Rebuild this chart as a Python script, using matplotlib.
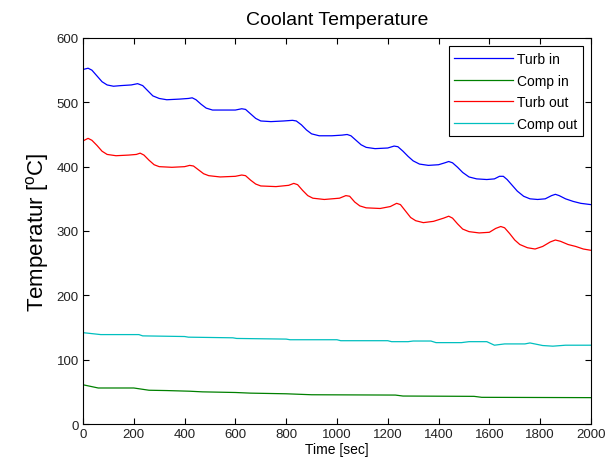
"""Coolant temperature vs time, MATLAB-style line chart saved as out.png."""

import matplotlib.pyplot as plt

# time [sec] / temperature [C]
TURB_IN_T = [0, 20, 35, 55, 75, 95, 120, 150, 190, 215, 235, 255, 275, 300, 330,
             380, 415, 430, 445, 465, 485, 510, 560, 600, 625, 640, 660, 680, 700,
             740, 790, 825, 840, 860, 880, 900, 930, 980, 1020, 1040, 1055, 1075,
             1095, 1115, 1150, 1200, 1225, 1240, 1260, 1280, 1300, 1325, 1360, 1400,
             1425, 1440, 1455, 1475, 1495, 1520, 1550, 1590, 1620, 1640, 1655, 1670,
             1690, 1710, 1735, 1760, 1790, 1820, 1845, 1860, 1875, 1900, 1930, 1960,
             2000]
TURB_IN = [551, 553, 550, 541, 532, 527, 525, 526, 527, 529, 526, 518, 510, 506, 504,
           505, 506, 507, 504, 497, 491, 488, 488, 488, 490, 489, 482, 475, 471,
           470, 471, 472, 471, 465, 457, 451, 448, 448, 449, 450, 448, 441,
           434, 430, 428, 429, 432, 431, 424, 416, 409, 404, 402, 403,
           406, 408, 406, 399, 391, 384, 381, 380, 381, 385, 385, 380,
           371, 362, 354, 350, 349, 350, 355, 357, 355, 350, 346, 343,
           341]

TURB_OUT_T = [0, 20, 35, 55, 75, 95, 130, 180, 210, 225, 240, 260, 280, 300, 350,
              400, 420, 435, 455, 475, 495, 540, 600, 625, 640, 660, 680, 700, 760,
              810, 830, 845, 865, 885, 905, 950, 1010, 1035, 1050, 1070, 1090, 1115,
              1170, 1210, 1235, 1250, 1270, 1290, 1310, 1340, 1380, 1420, 1440, 1455,
              1475, 1495, 1520, 1560, 1600, 1625, 1645, 1660, 1680, 1700, 1720, 1750,
              1780, 1810, 1840, 1860, 1880, 1910, 1940, 1970, 2000]
TURB_OUT = [440, 444, 441, 433, 424, 419, 417, 418, 419, 421, 418, 410, 403, 400, 399,
            400, 402, 401, 395, 389, 386, 384, 385, 387, 386, 379, 373, 370, 369,
            371, 374, 372, 363, 355, 351, 349, 351, 355, 354, 345, 339, 336,
            335, 338, 343, 341, 331, 321, 316, 313, 315, 320, 323, 320,
            311, 303, 299, 297, 298, 304, 307, 305, 296, 286, 279, 274,
            272, 276, 283, 286, 284, 279, 276, 272, 270]

COMP_OUT_T = [0, 70, 220, 235, 400, 415, 590, 605, 800, 815, 1000, 1015, 1200, 1215,
              1280, 1300, 1370, 1390, 1490, 1520, 1590, 1620, 1660, 1740, 1760, 1810,
              1850, 1900, 2000]
COMP_OUT = [142, 139, 139, 137, 136, 135, 134, 133, 132, 131, 131, 129.5, 129.5, 128,
            128, 129, 129, 126.5, 126.5, 128, 128, 122.5, 124.5, 124.5, 126, 122,
            121, 122.5, 122.5]

COMP_IN_T = [0, 60, 200, 260, 330, 420, 470, 600, 660, 800, 900, 1230, 1260, 1540,
             1570, 2000]
COMP_IN = [61, 56, 56, 52.5, 52, 51, 50, 49, 48, 47, 45.5, 45, 43.5, 43, 41.5, 41]

X_TICKS = list(range(0, 2001, 200))
Y_TICKS = list(range(0, 601, 100))

# old MATLAB default colour order
COLORS = {"b": "#0000ff", "g": "#008000", "r": "#ff0000", "c": "#00bfbf"}


def main():
    plt.rcParams.update({
        "font.family": ["Liberation Sans", "DejaVu Sans"],
        "mathtext.fontset": "custom",
        "mathtext.rm": "Liberation Sans",
        "mathtext.it": "Liberation Sans",
    })

    fig = plt.figure(figsize=(6.13, 4.64), dpi=100)
    ax = fig.add_axes([0.1354, 0.084, 0.8286, 0.832])

    lw = 0.9
    ax.plot(TURB_IN_T, TURB_IN, color=COLORS["b"], lw=lw, label="Turb in")
    ax.plot(COMP_IN_T, COMP_IN, color=COLORS["g"], lw=lw, label="Comp in")
    ax.plot(TURB_OUT_T, TURB_OUT, color=COLORS["r"], lw=lw, label="Turb out")
    ax.plot(COMP_OUT_T, COMP_OUT, color=COLORS["c"], lw=lw, label="Comp out")

    ax.set_xlim(0, 2000)
    ax.set_ylim(0, 600)
    ax.set_xticks(X_TICKS)
    ax.set_yticks(Y_TICKS)
    ax.tick_params(direction="in", top=True, right=True, length=4, width=0.8,
                   labelsize=9.5, labelcolor="#222222", pad=3)
    for sp in ax.spines.values():
        sp.set_linewidth(0.8)

    ax.set_title("Coolant Temperature", fontsize=14, pad=10)
    ax.set_xlabel("Time [sec]", fontsize=10, labelpad=1)
    ax.set_ylabel("Temperatur [$^{\\mathrm{o}}$C]", fontsize=16, labelpad=4)

    leg = ax.legend(loc="upper right", fontsize=10, fancybox=False,
                    framealpha=1, edgecolor="black", handlelength=4.2,
                    handletextpad=0.3, borderpad=0.4, labelspacing=0.55,
                    borderaxespad=0.6)
    leg.get_frame().set_linewidth(0.8)

    fig.savefig("out.png", dpi=100)


if __name__ == "__main__":
    main()
